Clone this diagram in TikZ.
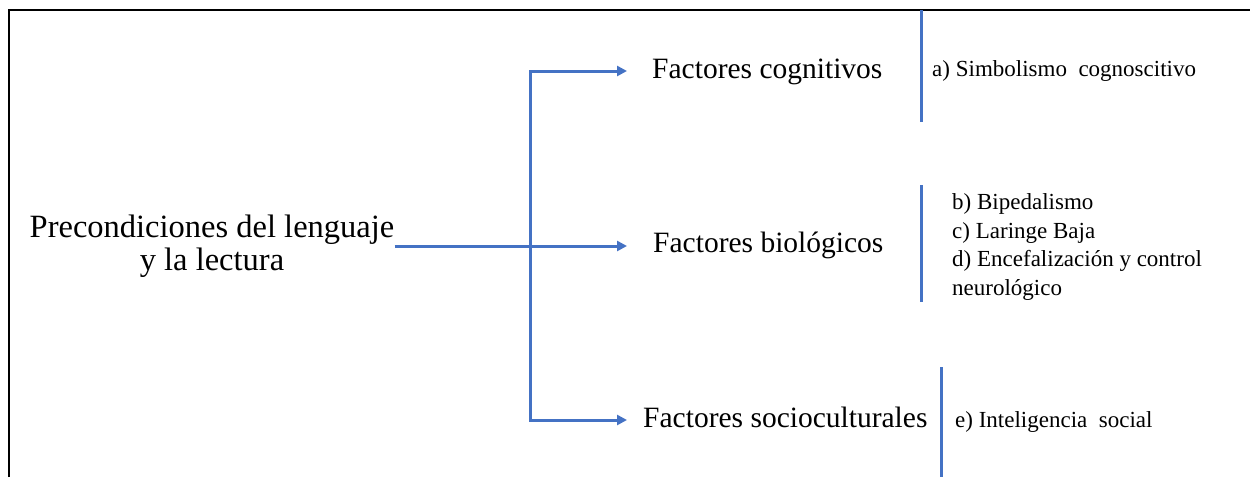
\documentclass[tikz,border=0pt]{standalone}
\usepackage{fontspec}
\setmainfont{Liberation Serif}
\usetikzlibrary{arrows.meta,positioning,calc}
\definecolor{wordblue}{HTML}{4472C4}

\begin{document}
\begin{tikzpicture}[
    x=1pt, y=-1pt,
    root/.style={align=center, inner sep=0pt, font=\fontsize{32.5}{33}\selectfont},
    factor/.style={anchor=base west, inner sep=0pt, font=\fontsize{29.5}{32}\selectfont},
    item/.style={anchor=base west, align=left, inner sep=0pt,
      font=\fontsize{23}{28.5}\selectfont},
    link/.style={-{Triangle[length=10pt,width=10pt]}, wordblue, line width=3pt},
    sepbar/.style={wordblue, line width=3pt},
    frame/.style={black, line width=1.2pt}
  ]
    \useasboundingbox (0,0) rectangle (1250,477);
    \draw[frame] (9,477) -- (9,10) -- (1250,10);
    \node[root] (main) at (212,246) {Precondiciones del lenguaje\\y la lectura};
    \node[factor] (cog) at (652,78) {Factores cognitivos};
    \node[factor] (bio) at (653,252) {Factores biológicos};
    \node[factor] (soc) at (643,427) {Factores socioculturales};
    \coordinate (jn) at (530,246);
    \coordinate (ct) at (627,71);
    \coordinate (bt) at (627,246);
    \coordinate (st) at (627,420);
    \draw[link] (main.east) -- (bt);
    \draw[link] (jn) |- (ct);
    \draw[link] (jn) |- (st);
    \draw[sepbar] (921,10) -- (921,122);
    \draw[sepbar] (921,185) -- (921,302);
    \draw[sepbar] (941,367) -- (941,477);
    \node[item] (simb) at (932,76) {a) Simbolismo\ \ cognoscitivo};
    % base anchor sits on the last line here
    \node[item] (biol) at (952,295) {b) Bipedalismo\\c) Laringe\ Baja\\d) Encefalización\ y control\\neurológico};
    \node[item] (intel) at (955,427) {e) Inteligencia\ \ social};
  \end{tikzpicture}
\end{document}
